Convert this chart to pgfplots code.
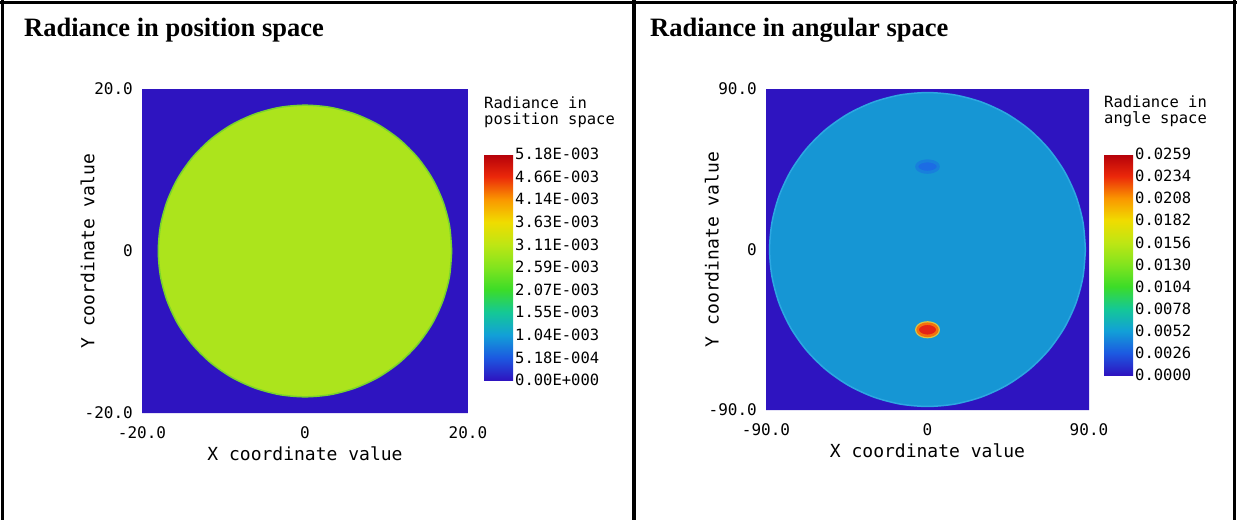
\documentclass[border=0pt]{standalone}
\usepackage{pgfplots}
\pgfplotsset{compat=1.18}
\usepackage{fontspec}
\setmainfont{Liberation Serif}
\newfontfamily\monofont{DejaVu Sans Mono}
\definecolor{bgblue}{RGB}{46,20,192}
\definecolor{disk}{RGB}{172,228,28}
\definecolor{diskedge}{RGB}{120,212,45}
\definecolor{adisk}{RGB}{22,150,212}
\definecolor{adiskedge}{RGB}{45,168,226}
\definecolor{blobin}{RGB}{28,108,228}
\definecolor{blobout}{RGB}{24,128,220}
\definecolor{hotred}{RGB}{228,36,22}
\definecolor{hotorange}{RGB}{245,112,12}
\definecolor{hotyellow}{RGB}{215,200,70}
\pgfplotsset{colormap={rad}{rgb255=(46,20,192) rgb255=(28,90,225) rgb255=(18,160,215) rgb255=(20,200,150) rgb255=(60,220,40) rgb255=(130,228,30) rgb255=(190,230,20) rgb255=(240,220,0) rgb255=(250,150,0) rgb255=(235,40,10) rgb255=(180,0,10)}}
\pgfplotsset{radstyle/.style={
  scale only axis, anchor=south west,
  axis line style={draw=none}, major tick length=0pt,
  tick label style={font=\monofont\fontsize{16}{16}\selectfont},
  xticklabel style={inner sep=0pt, anchor=north, yshift=-13pt},
  yticklabel style={inner sep=0pt, anchor=east, xshift=-9pt},
  label style={font=\monofont\fontsize{18}{18}\selectfont},
  xlabel style={at={(axis description cs:0.5,0)}, anchor=north, inner sep=0pt, yshift=-33.5pt},
  ylabel style={at={(axis description cs:-0.145,0.5)}, anchor=south, inner sep=0pt},
  xlabel={X coordinate value}, ylabel={Y coordinate value},
  colormap name=rad, colorbar, colorbar shift/.style={}, colorbar/width=29pt,
}}
\pgfplotsset{cbstyle/.style={
  scale only axis, axis line style={draw=none}, major tick length=0pt,
  scaled y ticks=false, width=29pt,
  yticklabel style={font=\monofont\fontsize{15.5}{15.5}\selectfont, inner sep=0pt, anchor=west, xshift=2pt},
}}
\begin{document}
\begin{tikzpicture}
\useasboundingbox (0pt,0pt) rectangle (1237pt,-520pt);
\fill[white] (0pt,0pt) rectangle (1237pt,-520pt);
% left panel
\begin{axis}[radstyle,
  at={(142pt,-413pt)}, width=326pt, height=324pt,
  xmin=-20, xmax=20, ymin=-20, ymax=20,
  xtick={-20,0,20}, ytick={-20,0,20},
  xticklabels={-20.0,0,20.0}, yticklabels={-20.0,0,20.0},
  point meta min=0, point meta max=0.00518,
  colorbar style={cbstyle, at={(parent axis.north east)}, anchor=north west,
    xshift=16pt, yshift=-65pt, height=226pt,
    ytick={0,0.000518,0.001036,0.001554,0.002072,0.00259,0.003108,0.003626,0.004144,0.004662,0.00518},
    yticklabels={0.00E+000,5.18E-004,1.04E-003,1.55E-003,2.07E-003,2.59E-003,3.11E-003,3.63E-003,4.14E-003,4.66E-003,5.18E-003}},
]
\addplot[fill=bgblue, draw=none] coordinates {(-20,-20) (20,-20) (20,20) (-20,20) (-20,-20)};
\addplot[fill=disk, draw=diskedge, line width=1.5pt, smooth] coordinates {
(18,0) (17.73,3.13) (16.91,6.16) (15.59,9) (13.79,11.57) (11.57,13.79) (9,15.59) (6.16,16.91) (3.13,17.73) (0,18)
(-3.13,17.73) (-6.16,16.91) (-9,15.59) (-11.57,13.79) (-13.79,11.57) (-15.59,9) (-16.91,6.16) (-17.73,3.13) (-18,0)
(-17.73,-3.13) (-16.91,-6.16) (-15.59,-9) (-13.79,-11.57) (-11.57,-13.79) (-9,-15.59) (-6.16,-16.91) (-3.13,-17.73) (0,-18)
(3.13,-17.73) (6.16,-16.91) (9,-15.59) (11.57,-13.79) (13.79,-11.57) (15.59,-9) (16.91,-6.16) (17.73,-3.13) (18,0)} -- cycle;
\end{axis}
% right panel
\begin{axis}[radstyle,
  at={(766pt,-410pt)}, width=323pt, height=321pt,
  xmin=-90, xmax=90, ymin=-90, ymax=90,
  xtick={-90,0,90}, ytick={-90,0,90},
  xticklabels={-90.0,0,90.0}, yticklabels={-90.0,0,90.0},
  point meta min=0, point meta max=0.0259,
  colorbar style={cbstyle, at={(parent axis.north east)}, anchor=north west,
    xshift=15pt, yshift=-65pt, height=221pt,
    ytick={0,0.00259,0.00518,0.00777,0.01036,0.01295,0.01554,0.01813,0.02072,0.02331,0.0259},
    yticklabels={0.0000,0.0026,0.0052,0.0078,0.0104,0.0130,0.0156,0.0182,0.0208,0.0234,0.0259}},
]
\addplot[fill=bgblue, draw=none] coordinates {(-90,-90) (90,-90) (90,90) (-90,90) (-90,-90)};
\addplot[fill=adisk, draw=adiskedge, line width=1.5pt, smooth] coordinates {
(88,0) (86.66,15.28) (82.69,30.10) (76.21,44) (67.41,56.57) (56.57,67.41) (44,76.21) (30.10,82.69) (15.28,86.66) (0,88)
(-15.28,86.66) (-30.10,82.69) (-44,76.21) (-56.57,67.41) (-67.41,56.57) (-76.21,44) (-82.69,30.10) (-86.66,15.28) (-88,0)
(-86.66,-15.28) (-82.69,-30.10) (-76.21,-44) (-67.41,-56.57) (-56.57,-67.41) (-44,-76.21) (-30.10,-82.69) (-15.28,-86.66) (0,-88)
(15.28,-86.66) (30.10,-82.69) (44,-76.21) (56.57,-67.41) (67.41,-56.57) (76.21,-44) (82.69,-30.10) (86.66,-15.28) (88,0)} -- cycle;
% dim spot
\addplot[fill=blobin, draw=blobout, line width=3pt, smooth] coordinates {
(6,46.5) (5.8,47.33) (5.2,48.1) (4.24,48.76) (3,49.27) (1.55,49.59) (0,49.7) (-1.55,49.59) (-3,49.27) (-4.24,48.76) (-5.2,48.1) (-5.8,47.33)
(-6,46.5) (-5.8,45.67) (-5.2,44.9) (-4.24,44.24) (-3,43.73) (-1.55,43.41) (0,43.3) (1.55,43.41) (3,43.73) (4.24,44.24) (5.2,44.9) (5.8,45.67) (6,46.5)} -- cycle;
% hot spot
\addplot[draw=hotyellow, line width=5pt, smooth] coordinates {
(5.5,-45) (5.31,-44.12) (4.76,-43.3) (3.89,-42.6) (2.75,-42.06) (1.42,-41.72) (0,-41.6) (-1.42,-41.72) (-2.75,-42.06) (-3.89,-42.6) (-4.76,-43.3) (-5.31,-44.12)
(-5.5,-45) (-5.31,-45.88) (-4.76,-46.7) (-3.89,-47.4) (-2.75,-47.94) (-1.42,-48.28) (0,-48.4) (1.42,-48.28) (2.75,-47.94) (3.89,-47.4) (4.76,-46.7) (5.31,-45.88) (5.5,-45)} -- cycle;
\addplot[fill=hotred, draw=hotorange, line width=2.5pt, smooth] coordinates {
(5.5,-45) (5.31,-44.12) (4.76,-43.3) (3.89,-42.6) (2.75,-42.06) (1.42,-41.72) (0,-41.6) (-1.42,-41.72) (-2.75,-42.06) (-3.89,-42.6) (-4.76,-43.3) (-5.31,-44.12)
(-5.5,-45) (-5.31,-45.88) (-4.76,-46.7) (-3.89,-47.4) (-2.75,-47.94) (-1.42,-48.28) (0,-48.4) (1.42,-48.28) (2.75,-47.94) (3.89,-47.4) (4.76,-46.7) (5.31,-45.88) (5.5,-45)} -- cycle;
\end{axis}
% colorbar titles
\begin{scope}[font=\monofont\fontsize{15.5}{15.5}\selectfont]
\node[anchor=base west, inner sep=0pt] at (484pt,-108pt) {Radiance in};
\node[anchor=base west, inner sep=0pt] at (484pt,-124pt) {position space};
\node[anchor=base west, inner sep=0pt] at (1104pt,-107pt) {Radiance in};
\node[anchor=base west, inner sep=0pt] at (1104pt,-123pt) {angle space};
\end{scope}
% panel titles
\begin{scope}[font=\bfseries\fontsize{26.5}{26.5}\selectfont]
\node[anchor=base west, inner sep=0pt] at (24pt,-36pt) {Radiance in position space};
\node[anchor=base west, inner sep=0pt] at (650pt,-36pt) {Radiance in angular space};
\end{scope}
% table rules
\draw[line width=3.5pt] (0pt,-2.5pt) -- (1237pt,-2.5pt);
\draw[line width=3.5pt] (2.5pt,0pt) -- (2.5pt,-520pt);
\draw[line width=3.5pt] (634pt,0pt) -- (634pt,-520pt);
\draw[line width=3.5pt] (1234.5pt,0pt) -- (1234.5pt,-520pt);
\end{tikzpicture}
\end{document}
